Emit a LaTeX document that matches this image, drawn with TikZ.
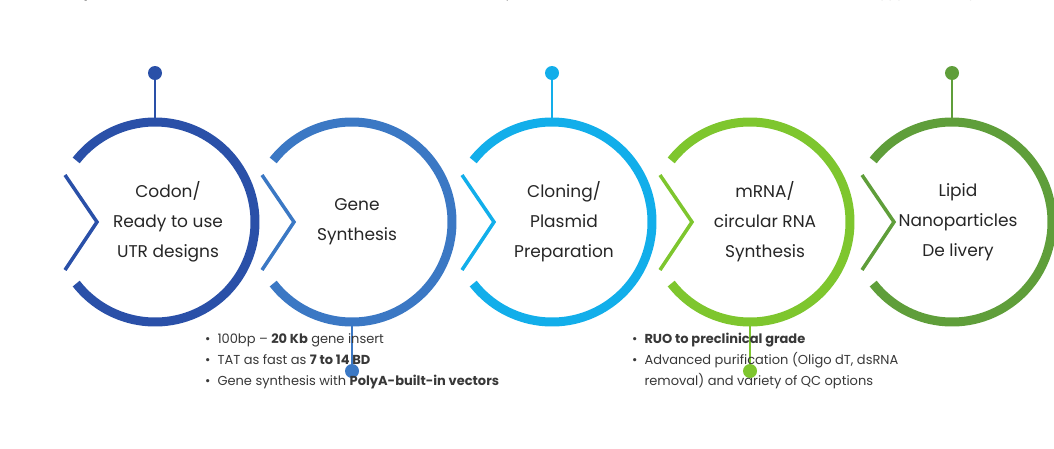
\documentclass[tikz,border=0pt]{standalone}
\usepackage{fontspec}
\setmainfont{Poppins}
\usetikzlibrary{positioning,calc}
\definecolor{cone}{HTML}{2A50A8}
\definecolor{ctwo}{HTML}{3B78C4}
\definecolor{cthree}{HTML}{12AEEA}
\definecolor{cfour}{HTML}{7EC62E}
\definecolor{cfive}{HTML}{5F9E3A}
\begin{document}
\begin{tikzpicture}[
  x=1pt, y=-1pt,
  ring/.style={line width=9pt},
  chev/.style={line width=3.5pt},
  pin/.style={line width=2.5pt},
  title/.style={align=center, font=\fontsize{17}{30}\selectfont, text=black!85},
  notes/.style={align=left, anchor=south west, font=\fontsize{13}{21}\selectfont, text=black!78, inner sep=0pt}
]
\useasboundingbox (0,0) rectangle (1054,448);
% rings
\foreach \cx/\col/\name in {155/cone/a, 352/ctwo/b, 552/cthree/c, 750/cfour/d, 952/cfive/e}{
  \coordinate (\name) at (\cx,222);
  \draw[ring, \col] (\cx,222) ++(142:100) arc[start angle=142, end angle=-142, radius=100];
  \draw[chev, \col, line join=miter] (\cx-90,175) -- (\cx-58,222) -- (\cx-90,270);
}
% titles
\node[title] (ta) at (168,222) {Codon/\\Ready to use\\UTR designs};
\node[title] (tb) at (357,222) {Gene\\Synthesis};
\node[title] (tc) at (564,222) {Cloning/\\Plasmid\\Preparation};
\node[title] (td) at (765,222) {mRNA/\\circular RNA\\Synthesis};
\node[title] (te) at (958,222) {Lipid\\Nanoparticles\\De livery};
% pins
\foreach \name/\col/\dy in {a/cone/-1, c/cthree/-1, e/cfive/-1, b/ctwo/1, d/cfour/1}{
  \fill[\col] ($(\name)+(0,\dy*149)$) circle (7);
  \draw[pin, \col] ($(\name)+(0,\dy*149)$) -- ($(\name)+(0,\dy*100)$);
}
% notes
\node[notes] (na) at (0,1) {\textbullet\ \ Codon optimization for protein expression\\
  \textbullet\ \ Codon optimization \textbf{with >200 factors}\\
  \phantom{\textbullet\ \ }\textbf{screened (patent)}};
\node[notes] (nc) at (396,1) {\textbullet\ \ Ready to use linearized plasmid DNA\\
  \textbullet\ \ \textbf{Vectors encoded stable Poly(A) tracts} with\\
  \phantom{\textbullet\ \ }variance of only +/- 5-10 nt};
\node[notes] (ne) at (860,1) {\textbullet\ \ Load\ \ 1-30mg mRNA\\
  \textbullet\ \ Load 20nt- 10kb mRNA};
\node[notes] (nb) at (205,389) {\textbullet\ \ 100bp -- \textbf{20 Kb} gene insert\\
  \textbullet\ \ TAT as fast as \textbf{7 to 14 BD}\\
  \textbullet\ \ Gene synthesis with \textbf{PolyA-built-in vectors}};
\node[notes] (nd) at (632,389) {\textbullet\ \ \textbf{RUO to preclinical grade}\\
  \textbullet\ \ Advanced purification (Oligo dT, dsRNA\\
  \phantom{\textbullet\ \ }removal) and variety of QC options};
\end{tikzpicture}
\end{document}
